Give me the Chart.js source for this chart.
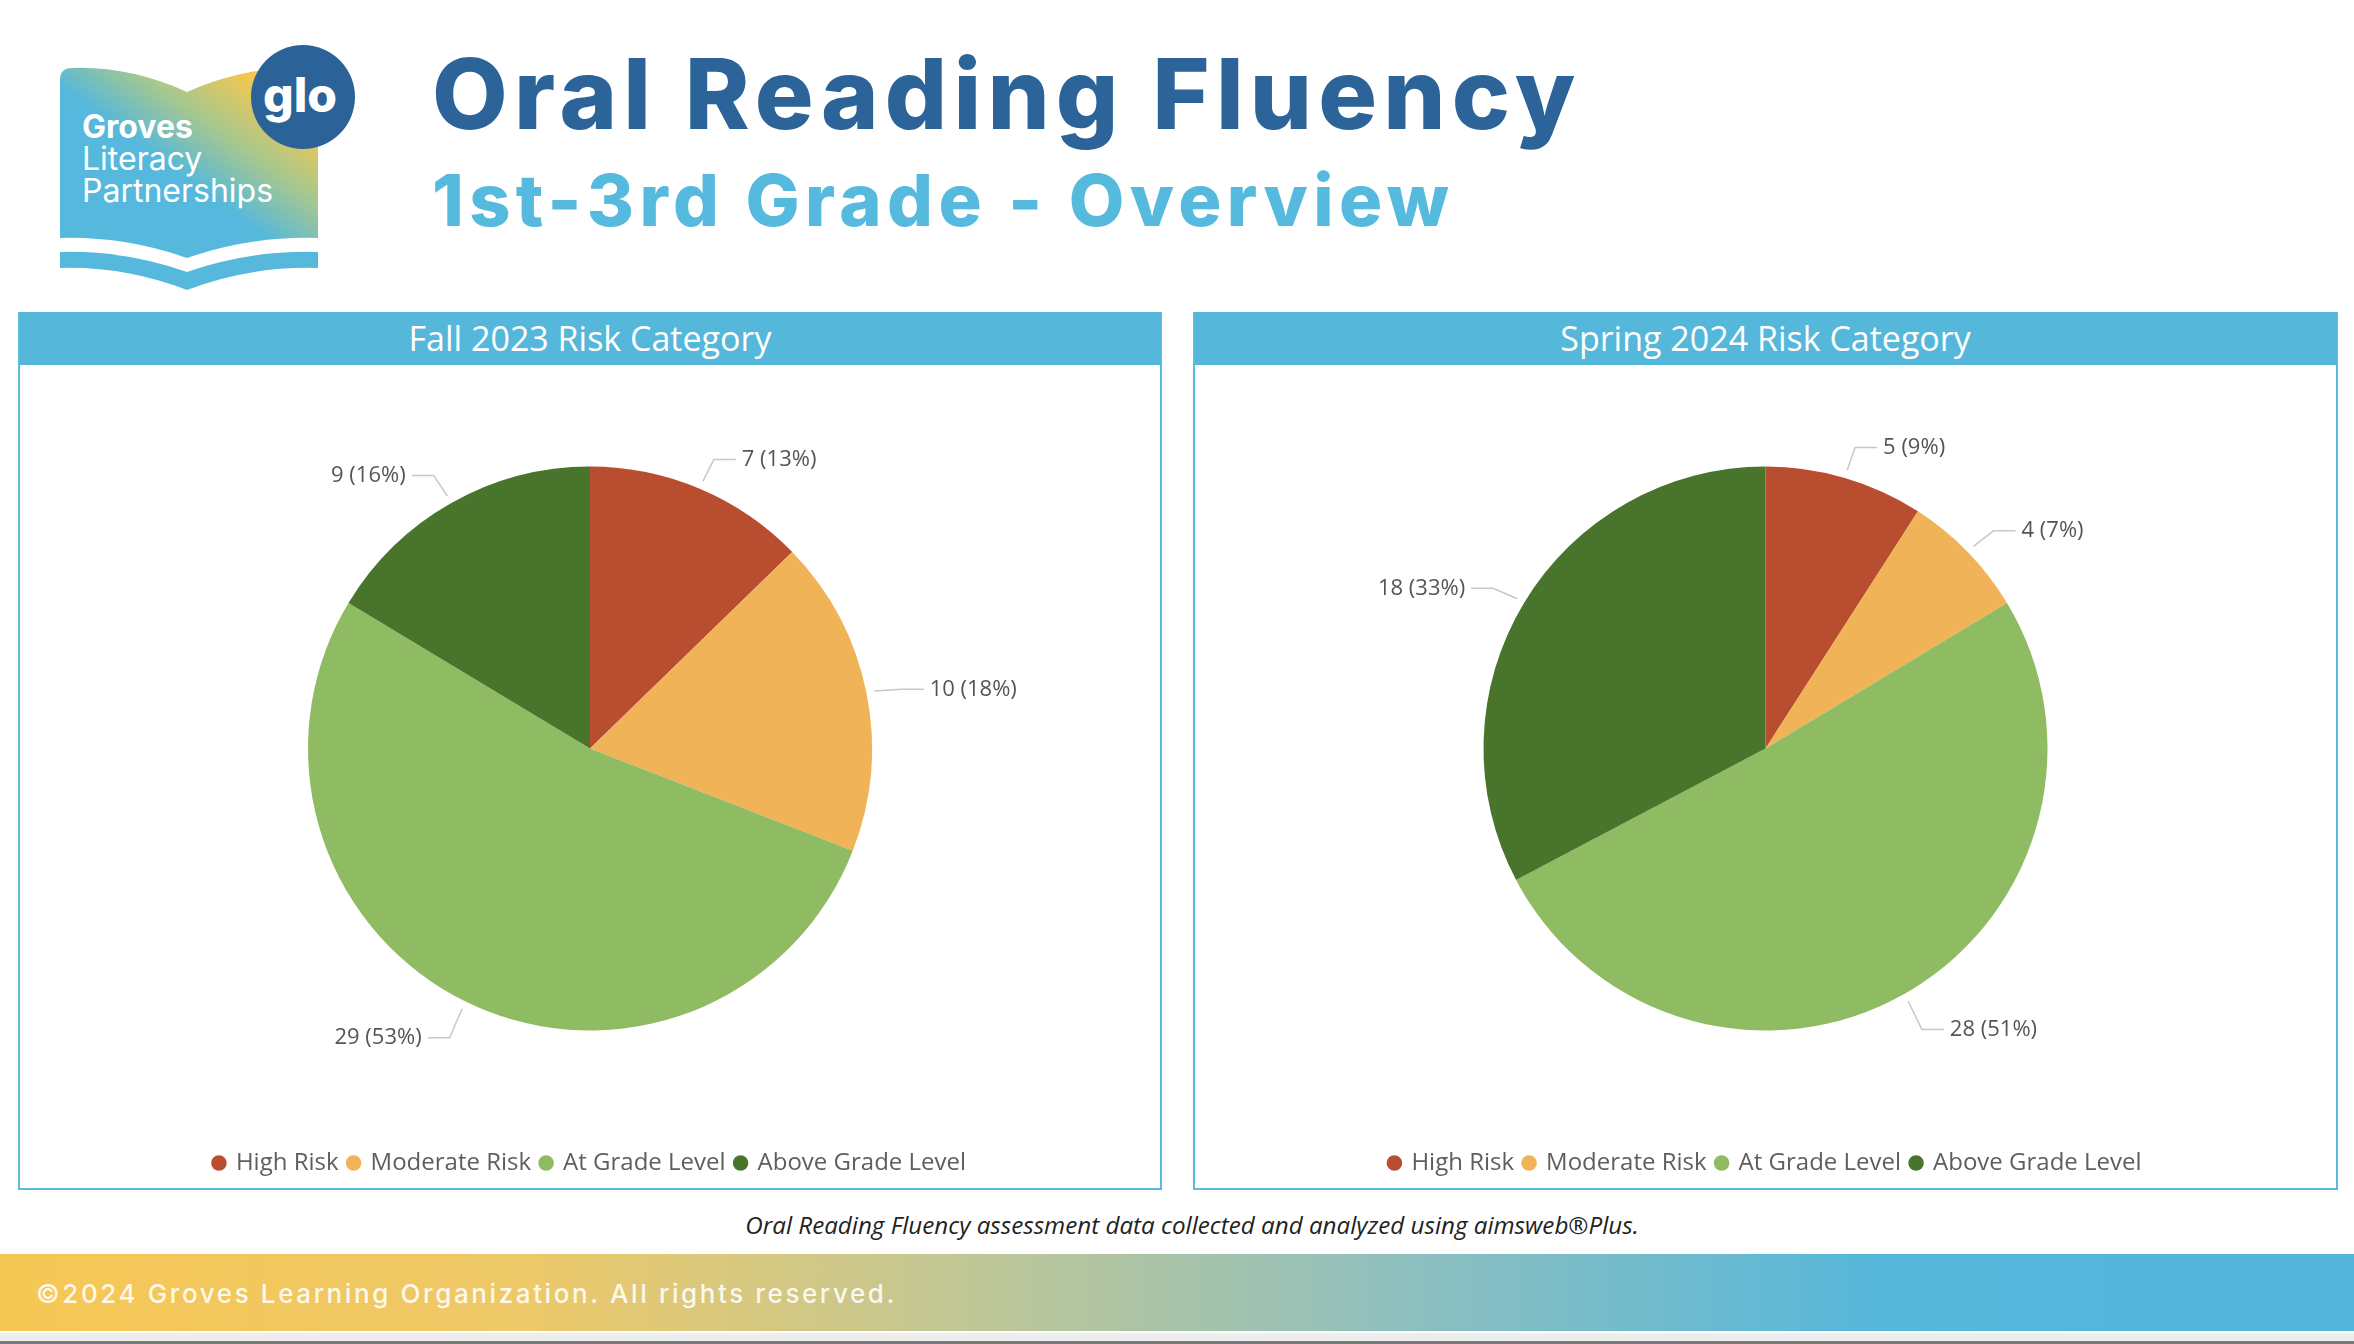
<!DOCTYPE html>
<html>
<head>
<meta charset="utf-8">
<script src="https://cdn.jsdelivr.net/npm/chart.js@4.4.1/dist/chart.umd.min.js"></script>
<style>
  html, body { margin: 0; padding: 0; background: #fff; }
  body { width: 2354px; height: 1344px; position: relative; overflow: hidden; font-family: "Open Sans", sans-serif; }
  #logo { position: absolute; left: 0; top: 0; }
  .title { position: absolute; left: 432px; top: 45px; font-family: Inter, sans-serif; font-weight: 800;
           font-size: 98px; letter-spacing: 6.2px; color: #2c6499; white-space: nowrap; line-height: 1; }
  .subtitle { position: absolute; left: 432px; top: 164px; font-family: Inter, sans-serif; font-weight: 800;
              font-size: 72px; letter-spacing: 5.4px; color: #56b9de; white-space: nowrap; line-height: 1; }
  .panel { position: absolute; top: 312px; height: 878px; border: 2px solid #5cbbdd; border-top: none; box-sizing: border-box; }
  .panel .head { height: 53px; background: #55b7da; color: #fff; font-size: 34px; text-align: center; line-height: 53px; }
  .panel .box { position: absolute; left: 0; right: 0; top: 44px; bottom: 0; }
  #p1 { left: 18px; width: 1144px; }
  #p2 { left: 1193px; width: 1145px; }
  .caption { position: absolute; left: 0; width: 2384px; top: 1208px; text-align: center; font-style: italic;
             font-size: 24.2px; color: #222; }
  .footer { position: absolute; left: 0; top: 1254px; width: 2354px; height: 77px;
            background: linear-gradient(90deg, #f6c754 0%, #eec968 22%, #c3c793 40%, #8dbfbf 60%, #55b7da 80%, #53b6da 100%); }
  .footer span { position: absolute; left: 36px; top: 24px; font-family: Inter, sans-serif; font-weight: 500; font-size: 26px;
                 letter-spacing: 2.6px; color: rgba(255,255,255,0.88); }
  .rule { position: absolute; left: 0; top: 1333px; width: 2354px; height: 11px; background: #eeeeee; border-bottom: 3px solid #7a7a7a; box-sizing: border-box; }
</style>
</head>
<body>
<svg id="logo" width="400" height="300" xmlns="http://www.w3.org/2000/svg">
  <defs>
    <linearGradient id="bookGrad" x1="0" y1="1" x2="1" y2="0">
      <stop offset="0" stop-color="#55b8dc"/>
      <stop offset="0.45" stop-color="#55b8dc"/>
      <stop offset="0.65" stop-color="#a9c88c"/>
      <stop offset="0.85" stop-color="#f6c64f"/>
      <stop offset="1" stop-color="#f6c64f"/>
    </linearGradient>
  </defs>
  <path d="M60 80 Q60 68 72 68 Q130 66 187 92 Q245 66 305 68 Q318 68 318 80 L318 238 Q250 236 187 258 Q124 236 60 238 Z" fill="url(#bookGrad)"/>
  <path d="M60 252 Q124 250 187 272 Q250 250 318 252 L318 268 Q250 266 187 290 Q124 266 60 268 Z" fill="#55b8dc"/>
  <circle cx="303" cy="97" r="52" fill="#2b6399"/>
  <text x="300" y="112" text-anchor="middle" font-family="Inter" font-weight="800" font-size="48" fill="#fff">glo</text>
  <text x="82" y="138" font-family="Inter" font-weight="700" font-size="32" fill="#fff">Groves</text>
  <text x="82" y="170" font-family="Inter" font-weight="400" font-size="32" fill="#fff">Literacy</text>
  <text x="82" y="202" font-family="Inter" font-weight="400" font-size="32" fill="#fff">Partnerships</text>
</svg>

<div class="title">Oral Reading Fluency</div>
<div class="subtitle">1st-3rd Grade - Overview</div>

<div class="panel" id="p1"><div class="head">Fall 2023 Risk Category</div><div class="box"><canvas id="fall"></canvas></div></div>
<div class="panel" id="p2"><div class="head">Spring 2024 Risk Category</div><div class="box"><canvas id="spring"></canvas></div></div>

<div class="caption">Oral Reading Fluency assessment data collected and analyzed using aimsweb®Plus.</div>
<div class="footer"><span>©2024 Groves Learning Organization. All rights reserved.</span></div>
<div class="rule"></div>

<script>
const categories = ['High Risk', 'Moderate Risk', 'At Grade Level', 'Above Grade Level'];
const fallValues = [7, 10, 29, 9];
const springValues = [5, 4, 28, 18];
const sliceColors = ['#b94d30', '#f0b357', '#8fbb62', '#48742c'];

Chart.defaults.font.family = '"Open Sans", sans-serif';

// value (pct) labels outside the pie with a bent leader line
const leaderLabels = {
  id: 'leaderLabels',
  afterDatasetsDraw(chart) {
    const ctx = chart.ctx;
    const data = chart.data.datasets[0].data;
    const total = data.reduce((a, b) => a + b, 0);
    const meta = chart.getDatasetMeta(0);
    ctx.save();
    ctx.font = '22px "Open Sans", sans-serif';
    ctx.textBaseline = 'middle';
    ctx.strokeStyle = '#c8c8c8';
    ctx.lineWidth = 1.5;
    ctx.fillStyle = '#555555';
    meta.data.forEach((arc, i) => {
      const p = arc.getProps(['x', 'y', 'startAngle', 'endAngle', 'outerRadius'], true);
      const mid = (p.startAngle + p.endAngle) / 2;
      const dx = Math.cos(mid), dy = Math.sin(mid);
      const x1 = p.x + dx * (p.outerRadius + 8), y1 = p.y + dy * (p.outerRadius + 8);
      const x2 = p.x + dx * (p.outerRadius + 36), y2 = p.y + dy * (p.outerRadius + 36) + 4;
      const right = dx >= 0;
      const x3 = x2 + (right ? 22 : -22);
      ctx.beginPath();
      ctx.moveTo(x1, y1);
      ctx.lineTo(x2, y2);
      ctx.lineTo(x3, y2);
      ctx.stroke();
      const txt = data[i] + ' (' + Math.round(data[i] / total * 100) + '%)';
      ctx.textAlign = right ? 'left' : 'right';
      ctx.fillText(txt, x3 + (right ? 6 : -6), y2);
    });
    ctx.restore();
  }
};

function makePie(id, values) {
  return new Chart(document.getElementById(id), {
    type: 'pie',
    data: {
      labels: categories,
      datasets: [{ data: values, backgroundColor: sliceColors, borderWidth: 0, radius: 282 }]
    },
    options: {
      responsive: true,
      maintainAspectRatio: false,
      animation: false,
      events: [],
      layout: { padding: { top: 0, bottom: 3 } },
      plugins: {
        legend: {
          position: 'bottom',
          labels: {
            usePointStyle: true,
            pointStyle: 'circle',
            boxWidth: 10,
            boxHeight: 11,
            padding: 10,
            color: '#605e5c',
            font: { size: 24 }
          }
        },
        tooltip: { enabled: false }
      }
    },
    plugins: [leaderLabels]
  });
}

makePie('fall', fallValues);
makePie('spring', springValues);
</script>
</body>
</html>
